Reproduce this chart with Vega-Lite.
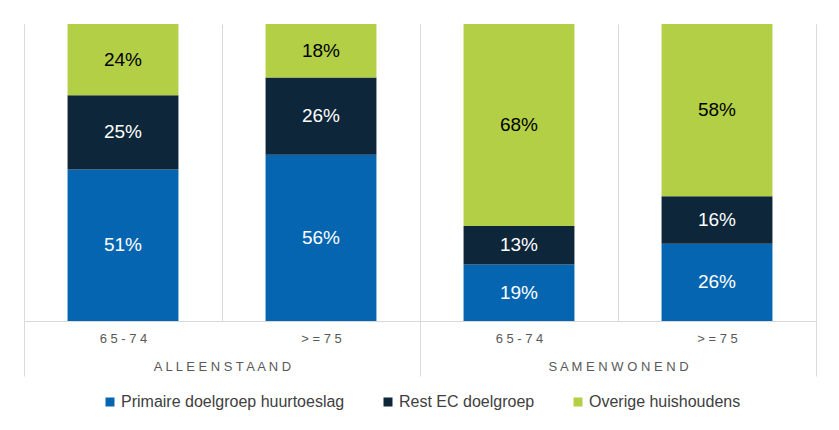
{
  "$schema": "https://vega.github.io/schema/vega-lite/v6.json",
  "width": 792,
  "height": 297,
  "padding": {"left": 23, "top": 24, "right": 20, "bottom": 5},
  "background": "white",
  "data": {
    "values": [
      {"group": "A L L E E N S T A A N D", "key": "A|6 5 - 7 4", "seg": "Primaire doelgroep huurtoeslag", "ord": 1, "value": 0.51},
      {"group": "A L L E E N S T A A N D", "key": "A|6 5 - 7 4", "seg": "Rest EC doelgroep", "ord": 2, "value": 0.25},
      {"group": "A L L E E N S T A A N D", "key": "A|6 5 - 7 4", "seg": "Overige huishoudens", "ord": 3, "value": 0.24},
      {"group": "A L L E E N S T A A N D", "key": "A|> = 7 5", "seg": "Primaire doelgroep huurtoeslag", "ord": 1, "value": 0.56},
      {"group": "A L L E E N S T A A N D", "key": "A|> = 7 5", "seg": "Rest EC doelgroep", "ord": 2, "value": 0.26},
      {"group": "A L L E E N S T A A N D", "key": "A|> = 7 5", "seg": "Overige huishoudens", "ord": 3, "value": 0.18},
      {"group": "S A M E N W O N E N D", "key": "S|6 5 - 7 4", "seg": "Primaire doelgroep huurtoeslag", "ord": 1, "value": 0.19},
      {"group": "S A M E N W O N E N D", "key": "S|6 5 - 7 4", "seg": "Rest EC doelgroep", "ord": 2, "value": 0.13},
      {"group": "S A M E N W O N E N D", "key": "S|6 5 - 7 4", "seg": "Overige huishoudens", "ord": 3, "value": 0.68},
      {"group": "S A M E N W O N E N D", "key": "S|> = 7 5", "seg": "Primaire doelgroep huurtoeslag", "ord": 1, "value": 0.26},
      {"group": "S A M E N W O N E N D", "key": "S|> = 7 5", "seg": "Rest EC doelgroep", "ord": 2, "value": 0.16},
      {"group": "S A M E N W O N E N D", "key": "S|> = 7 5", "seg": "Overige huishoudens", "ord": 3, "value": 0.58}
    ]
  },
  "layer": [
    {
      "encoding": {
        "x": {
          "field": "key", "type": "nominal", "sort": null,
          "scale": {"paddingInner": 0, "paddingOuter": 0},
          "axis": {
            "orient": "bottom", "title": null, "tickBand": "extent", "grid": true,
            "gridColor": "#d9d9d9", "gridWidth": 1, "ticks": false,
            "domain": true, "domainColor": "#d9d9d9", "domainWidth": 1,
            "labelAngle": 0, "labelExpr": "split(datum.label, '|')[1]",
            "labelFont": "Liberation Sans", "labelFontSize": 13, "labelColor": "#595959",
            "labelPadding": 11
          }
        },
        "y": {
          "field": "value", "type": "quantitative", "stack": "zero",
          "scale": {"domain": [0, 1], "nice": false},
          "axis": null
        },
        "order": {"field": "ord", "type": "quantitative"}
      },
      "layer": [
        {
          "mark": {"type": "bar", "width": {"band": 0.56}},
          "encoding": {
            "color": {
              "field": "seg", "type": "nominal",
              "scale": {
                "domain": ["Primaire doelgroep huurtoeslag", "Rest EC doelgroep", "Overige huishoudens"],
                "range": ["#0565B0", "#0D2639", "#B3CF46"]
              },
              "legend": {
                "orient": "none", "legendX": 78, "legendY": 370, "direction": "horizontal", "title": null,
                "symbolType": "square", "symbolSize": 81, "symbolStrokeWidth": 0,
                "labelFont": "Liberation Sans", "labelFontSize": 16, "labelColor": "#404040",
                "labelOffset": 3, "columnPadding": 35, "labelLimit": 400
              }
            }
          }
        },
        {
          "mark": {"type": "text", "font": "Liberation Sans", "fontSize": 19},
          "encoding": {
            "y": {"field": "value", "type": "quantitative", "stack": "zero", "bandPosition": 0.5},
            "text": {"field": "value", "type": "quantitative", "format": ".0%"},
            "detail": {"field": "seg"},
            "fill": {
              "condition": {"test": "datum.seg === 'Overige huishoudens'", "value": "#000000"},
              "value": "#ffffff"
            }
          }
        }
      ]
    },
    {
      "mark": {"type": "point", "opacity": 0},
      "encoding": {
        "x": {
          "field": "group", "type": "nominal", "sort": null,
          "scale": {"paddingInner": 0, "paddingOuter": 0},
          "axis": {
            "orient": "bottom", "title": null, "tickBand": "extent", "grid": true,
            "gridColor": "#d9d9d9", "ticks": true, "tickColor": "#d9d9d9", "tickSize": 55,
            "domain": false, "labelAngle": 0,
            "labelFont": "Liberation Sans", "labelFontSize": 13, "labelColor": "#595959",
            "labelPadding": -16
          }
        }
      }
    }
  ],
  "resolve": {"scale": {"x": "independent"}, "axis": {"x": "independent"}},
  "config": {"view": {"stroke": null}}
}
